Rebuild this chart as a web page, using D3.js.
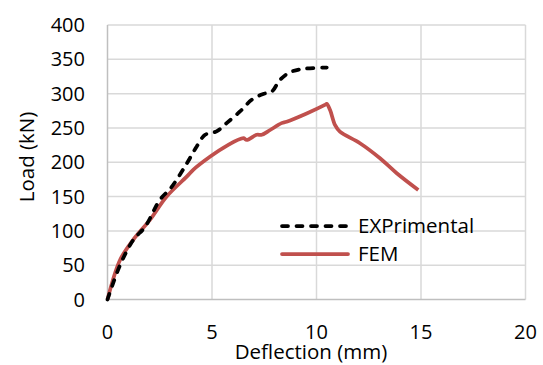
<!DOCTYPE html>
<html><head><meta charset="utf-8">
<script src="https://cdn.jsdelivr.net/npm/d3@7"></script>
<style>body{margin:0;background:#fff;} text{font-family:"Open Sans",sans-serif;fill:#000;}</style>
</head><body>
<svg id="c" width="543" height="365"></svg>
<script>
const xTicks = [0, 5, 10, 15, 20];
const yTicks = [0, 50, 100, 150, 200, 250, 300, 350, 400];
const seriesNames = ["EXPrimental", "FEM"];
const expX = [0, 0.6, 1.24, 1.8, 2.5, 3.07, 3.79, 4.27, 4.67, 5.22, 5.7, 6.34, 6.9, 7.45, 7.86, 8.25, 8.73, 9.37, 10.49];
const expY = [0, 50, 87, 106, 145, 164, 198, 223, 240, 245, 257, 274, 291, 299.5, 303, 320, 331, 336, 338];
const femX = [0, 0.6, 1.23, 2.03, 2.83, 3.79, 4.1, 4.9, 5.7, 6.5, 6.66, 7.14, 7.38, 7.78, 8.33, 8.57, 9.53, 10.4, 10.49, 10.65, 10.89, 11.12, 12.08, 13.04, 13.84, 14.87];
const femY = [0, 57.6, 87, 116, 150, 179, 189, 208, 224, 235, 232.5, 240, 240, 247, 257, 259, 271, 283.5, 285, 276, 254, 244.6, 227.7, 205.8, 184, 159.6];

const svg = d3.select("#c");
const x = d3.scaleLinear().domain([0, 20]).range([107.5, 525.5]);
const y = d3.scaleLinear().domain([0, 400]).range([299.5, 25]);

// gridlines
svg.append("g").selectAll("line").data(yTicks.filter(d => d > 0)).join("line")
  .attr("x1", x(0)).attr("x2", x(20)).attr("y1", d => y(d)).attr("y2", d => y(d))
  .attr("stroke", "#d9d9d9").attr("stroke-width", 1.5);
svg.append("g").selectAll("line").data(xTicks.filter(d => d > 0)).join("line")
  .attr("y1", y(0)).attr("y2", y(400)).attr("x1", d => x(d)).attr("x2", d => x(d))
  .attr("stroke", "#d9d9d9").attr("stroke-width", 1.5);
// axes lines
svg.append("line").attr("x1", x(0)).attr("x2", x(0)).attr("y1", y(0)).attr("y2", y(400)).attr("stroke", "#bfbfbf").attr("stroke-width", 1.5);
svg.append("line").attr("x1", x(0)).attr("x2", x(20)).attr("y1", y(0)).attr("y2", y(0)).attr("stroke", "#bfbfbf").attr("stroke-width", 1.5);

// tick labels
svg.append("g").selectAll("text").data(yTicks).join("text")
  .attr("x", 85).attr("y", d => y(d)).attr("dy", "0.35em").attr("text-anchor", "end")
  .attr("font-size", 20).text(d => d);
svg.append("g").selectAll("text").data(xTicks).join("text")
  .attr("x", d => x(d)).attr("y", 332).attr("dy", "0.35em").attr("text-anchor", "middle")
  .attr("font-size", 20).text(d => d);

// axis titles
svg.append("text").attr("x", 311).attr("y", 352).attr("dy", "0.35em").attr("text-anchor", "middle")
  .attr("font-size", 20.5).text("Deflection (mm)");
svg.append("text").attr("transform", "translate(27,157) rotate(-90)").attr("dy", "0.35em")
  .attr("text-anchor", "middle").attr("font-size", 20.5).text("Load (kN)");

const femData = femX.map((v, i) => [v, femY[i]]);
const expData = expX.map((v, i) => [v, expY[i]]);
const lineGen = d3.line().x(d => x(d[0])).y(d => y(d[1])).curve(d3.curveCatmullRom.alpha(0.5));

svg.append("path").datum(femData).attr("d", lineGen)
  .attr("fill", "none").attr("stroke", "#c0504d").attr("stroke-width", 3.75).attr("stroke-linejoin", "round");
svg.append("path").datum(expData).attr("d", lineGen)
  .attr("fill", "none").attr("stroke", "#000").attr("stroke-width", 3.75)
  .attr("stroke-dasharray", "6,8.5").attr("stroke-linecap", "round");

// legend
const leg = [{name: seriesNames[0], y: 226, dash: "6,8.5", color: "#000"}, {name: seriesNames[1], y: 254, dash: null, color: "#c0504d"}];
leg.forEach(l => {
  svg.append("line").attr("x1", 282).attr("x2", 348).attr("y1", l.y).attr("y2", l.y)
    .attr("stroke", l.color).attr("stroke-width", 3.75).attr("stroke-dasharray", l.dash)
    .attr("stroke-linecap", "round");
  svg.append("text").attr("x", 358).attr("y", l.y).attr("dy", "0.35em").attr("font-size", 20.5).text(l.name);
});
</script>
</body></html>
